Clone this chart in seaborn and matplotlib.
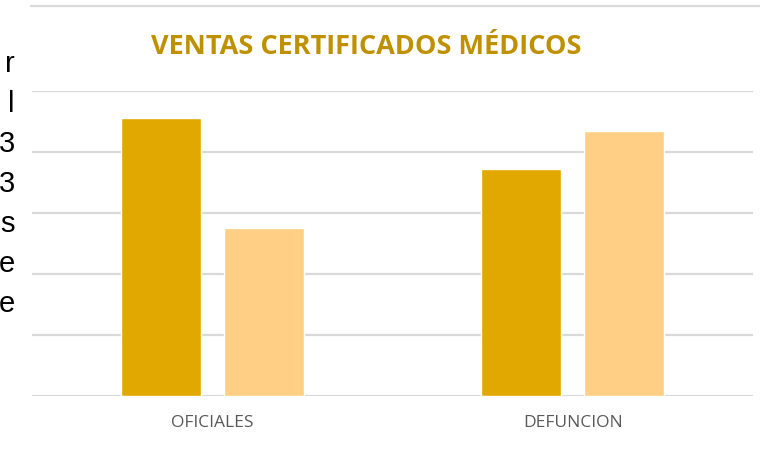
import matplotlib
matplotlib.use("Agg")
import matplotlib.pyplot as plt
import seaborn as sns
import pandas as pd
from matplotlib.lines import Line2D

categories = ["OFICIALES", "DEFUNCION"]
series_names = ["Serie 1", "Serie 2"]
serie1 = [4.56, 3.72]
serie2 = [2.75, 4.34]
side_letters = ["r", "l", "3", "3", "s", "e", "e"]

df = pd.DataFrame({
    "categoria": categories * 2,
    "serie": [series_names[0]] * 2 + [series_names[1]] * 2,
    "valor": serie1 + serie2,
})

sns.set_theme(style="white")
plt.rcParams["font.family"] = ["Open Sans", "DejaVu Sans"]

W, H = 760, 461
fig = plt.figure(figsize=(W / 100, H / 100), dpi=100)
ax = fig.add_axes([32 / W, 1 - 396 / H, (753 - 32) / W, (396 - 91) / H])

sns.barplot(data=df, x="categoria", y="valor", hue="serie",
            palette=["#E0A800", "#FFCF85"], width=0.574, gap=0.227,
            saturation=1, ax=ax, legend=False, errorbar=None)

ax.set_ylim(0, 5)
ax.set_xlim(-0.5, 1.5)
ax.set_yticks([0, 1, 2, 3, 4, 5])
ax.yaxis.grid(True, color="#D9D9D9", linewidth=1.6)
ax.set_axisbelow(True)
for s in ax.spines.values():
    s.set_visible(False)
ax.tick_params(axis="y", left=False, labelleft=False)
ax.tick_params(axis="x", bottom=False, pad=8)
for lbl in ax.get_xticklabels():
    lbl.set_fontsize(12.5)
    lbl.set_color("#595959")
ax.set_xlabel("")
ax.set_ylabel("")

fig.text(366 / W, 1 - 47 / H, "VENTAS CERTIFICADOS MÉDICOS",
         ha="center", va="center", fontsize=19.5, fontweight="bold",
         color="#BF9000")

# chart frame top border
fig.add_artist(Line2D([31 / W, 1.0], [1 - 6 / H, 1 - 6 / H],
                      transform=fig.transFigure, color="#D9D9D9", linewidth=1.6))

# partially visible document text on the left
for i, ch in enumerate(side_letters):
    fig.text(15 / W, 1 - (72 + 40 * i) / H, ch, ha="right", va="baseline",
             fontsize=21, color="#000000", family=["Liberation Sans", "DejaVu Sans"])

fig.savefig("out.png", dpi=100)
